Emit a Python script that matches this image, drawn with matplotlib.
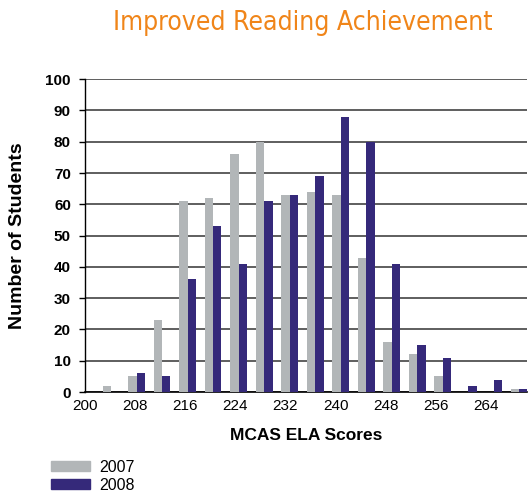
import numpy as np
import matplotlib.pyplot as plt
from matplotlib.patches import Patch

plt.rcParams["font.family"] = ["Liberation Sans", "DejaVu Sans"]

# Puntajes MCAS ELA agrupados (cada 4 puntos, 204..268)
grupos = list(range(204, 272, 4))
alumnos_2007 = [2, 5, 23, 61, 62, 76, 80, 63, 64, 63, 43, 16, 12, 5, 0, 0, 1]
alumnos_2008 = [0, 6, 5, 36, 53, 41, 61, 63, 69, 88, 80, 41, 15, 11, 2, 4, 1]
etiquetas_x = [200, 208, 216, 224, 232, 240, 248, 256, 264]

gris = "#B2B6B8"
morado = "#35297A"
naranja = "#F08519"

fig = plt.figure(figsize=(5.30, 4.95), dpi=100)
ax = fig.add_axes([0.160, 0.208, 0.834, 0.632])

# los grupos en el original quedan un poco corridos respecto al eje
centros = 204.2 + (np.array(grupos) - 204) * 1.017
ancho = 1.33
ax.bar(centros - ancho / 2, alumnos_2007, width=ancho, color=gris, zorder=3)
ax.bar(centros + ancho / 2, alumnos_2008, width=ancho, color=morado, zorder=3)

ax.set_xlim(200, 270.5)
ax.set_ylim(0, 100)
ax.set_yticks(range(0, 101, 10))
ax.set_xticks(etiquetas_x)
ax.yaxis.grid(True, color="#333333", linewidth=1.1, zorder=0)
for s in ["top", "right"]:
    ax.spines[s].set_visible(False)
ax.spines["left"].set_linewidth(1.0)
ax.spines["bottom"].set_linewidth(1.2)
ax.tick_params(axis="y", length=4, width=1, labelsize=11, pad=6)
ax.tick_params(axis="x", length=0, labelsize=11, pad=5)
for t in ax.get_yticklabels():
    t.set_fontweight("bold")

ax.set_ylabel("Number of Students", fontsize=14, fontweight="bold", labelpad=14)
ax.set_xlabel("MCAS ELA Scores", fontsize=12.5, fontweight="bold", labelpad=11)

fig.text(0.572, 0.953, "Improved Reading Achievement", color=naranja,
         fontsize=19, family="DejaVu Sans", stretch="condensed",
         ha="center", va="center")

handles = [Patch(color=gris, label="2007"), Patch(color=morado, label="2008")]
fig.legend(handles=handles, loc="lower left", bbox_to_anchor=(0.070, -0.025),
           frameon=False, fontsize=11.5, handlelength=2.4, handleheight=0.6,
           labelspacing=0.2, handletextpad=0.6)

fig.savefig("out.png", dpi=100)
